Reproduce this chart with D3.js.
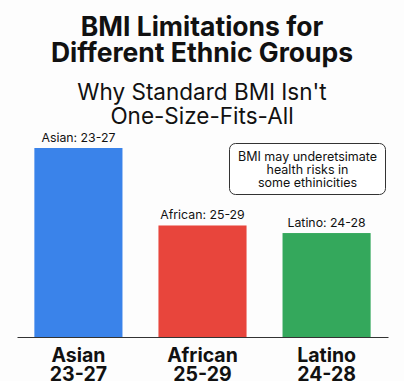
<!DOCTYPE html>
<html>
<head>
<meta charset="utf-8">
<script src="https://cdn.jsdelivr.net/npm/d3@7"></script>
<style>
  body { margin: 0; background: #fdfdfd; }
  text { font-family: Inter, 'Noto Sans', sans-serif; fill: #111; }
</style>
</head>
<body>
<div id="chart"></div>
<script>
const groups = ['Asian', 'African', 'Latino']
const ranges = ['23-27', '25-29', '24-28']
// relative bar heights
const heights = [100, 59, 55]
const colors = ['#3a83ea', '#e8453c', '#34a85c']

const titleLines = ['BMI Limitations for', 'Different Ethnic Groups']
const subtitleLines = ["Why Standard BMI Isn't", 'One-Size-Fits-All']
const noteLines = ['BMI may underetsimate', 'health risks in', 'some ethinicities']

const width = 404
const height = 381

const svg = d3
  .select('#chart')
  .append('svg')
  .attr('width', width)
  .attr('height', height)

const xPositionScale = d3
  .scaleBand()
  .domain(groups)
  .range([17, 388])
  .paddingInner(0.29)
  .paddingOuter(0.14)

const yPositionScale = d3
  .scaleLinear()
  .domain([0, 100])
  .range([337, 148])

// title + subtitle
svg
  .selectAll('.title')
  .data(titleLines)
  .enter()
  .append('text')
  .attr('class', 'title')
  .attr('x', width / 2)
  .attr('y', (d, i) => 36 + i * 26)
  .attr('text-anchor', 'middle')
  .style('font-size', '26.5px')
  .style('font-weight', 700)
  .text(d => d)

svg
  .selectAll('.subtitle')
  .data(subtitleLines)
  .enter()
  .append('text')
  .attr('class', 'subtitle')
  .attr('x', width / 2)
  .attr('y', (d, i) => 100 + i * 24)
  .attr('text-anchor', 'middle')
  .style('font-size', '22.5px')
  .style('font-weight', 400)
  .text(d => d)

// bars
svg
  .selectAll('rect.bar')
  .data(groups)
  .enter()
  .append('rect')
  .attr('class', 'bar')
  .attr('x', d => xPositionScale(d))
  .attr('width', xPositionScale.bandwidth())
  .attr('y', (d, i) => yPositionScale(heights[i]))
  .attr('height', (d, i) => yPositionScale(0) - yPositionScale(heights[i]))
  .attr('fill', (d, i) => colors[i])

// value labels above bars
svg
  .selectAll('.bar-label')
  .data(groups)
  .enter()
  .append('text')
  .attr('class', 'bar-label')
  .attr('x', d => xPositionScale(d) + xPositionScale.bandwidth() / 2)
  .attr('y', (d, i) => yPositionScale(heights[i]) - 6)
  .attr('text-anchor', 'middle')
  .style('font-size', '12.3px')
  .text((d, i) => d + ': ' + ranges[i])

// x axis
const xAxis = d3.axisBottom(xPositionScale).tickSize(0).tickFormat('')

svg
  .append('g')
  .attr('class', 'axis x-axis')
  .attr('transform', 'translate(0,337)')
  .call(xAxis)

svg.select('.x-axis .domain').attr('stroke', '#333').attr('stroke-width', 1)

const tickLabels = svg
  .selectAll('.x-label')
  .data(groups)
  .enter()
  .append('text')
  .attr('class', 'x-label')
  .attr('text-anchor', 'middle')
  .style('font-size', '19.5px')
  .style('font-weight', 700)

tickLabels
  .append('tspan')
  .attr('x', d => xPositionScale(d) + xPositionScale.bandwidth() / 2)
  .attr('y', 362)
  .text(d => d)

tickLabels
  .append('tspan')
  .attr('x', d => xPositionScale(d) + xPositionScale.bandwidth() / 2)
  .attr('y', 381)
  .text((d, i) => ranges[i])

// annotation box
svg
  .append('rect')
  .attr('x', 229.5)
  .attr('y', 143.5)
  .attr('width', 156)
  .attr('height', 51)
  .attr('rx', 6)
  .attr('fill', '#fff')
  .attr('stroke', '#333')
  .attr('stroke-width', 1)

svg
  .selectAll('.note')
  .data(noteLines)
  .enter()
  .append('text')
  .attr('class', 'note')
  .attr('x', 307.5)
  .attr('y', (d, i) => 161 + i * 13)
  .attr('text-anchor', 'middle')
  .style('font-size', '12.5px')
  .text(d => d)
</script>
</body>
</html>
